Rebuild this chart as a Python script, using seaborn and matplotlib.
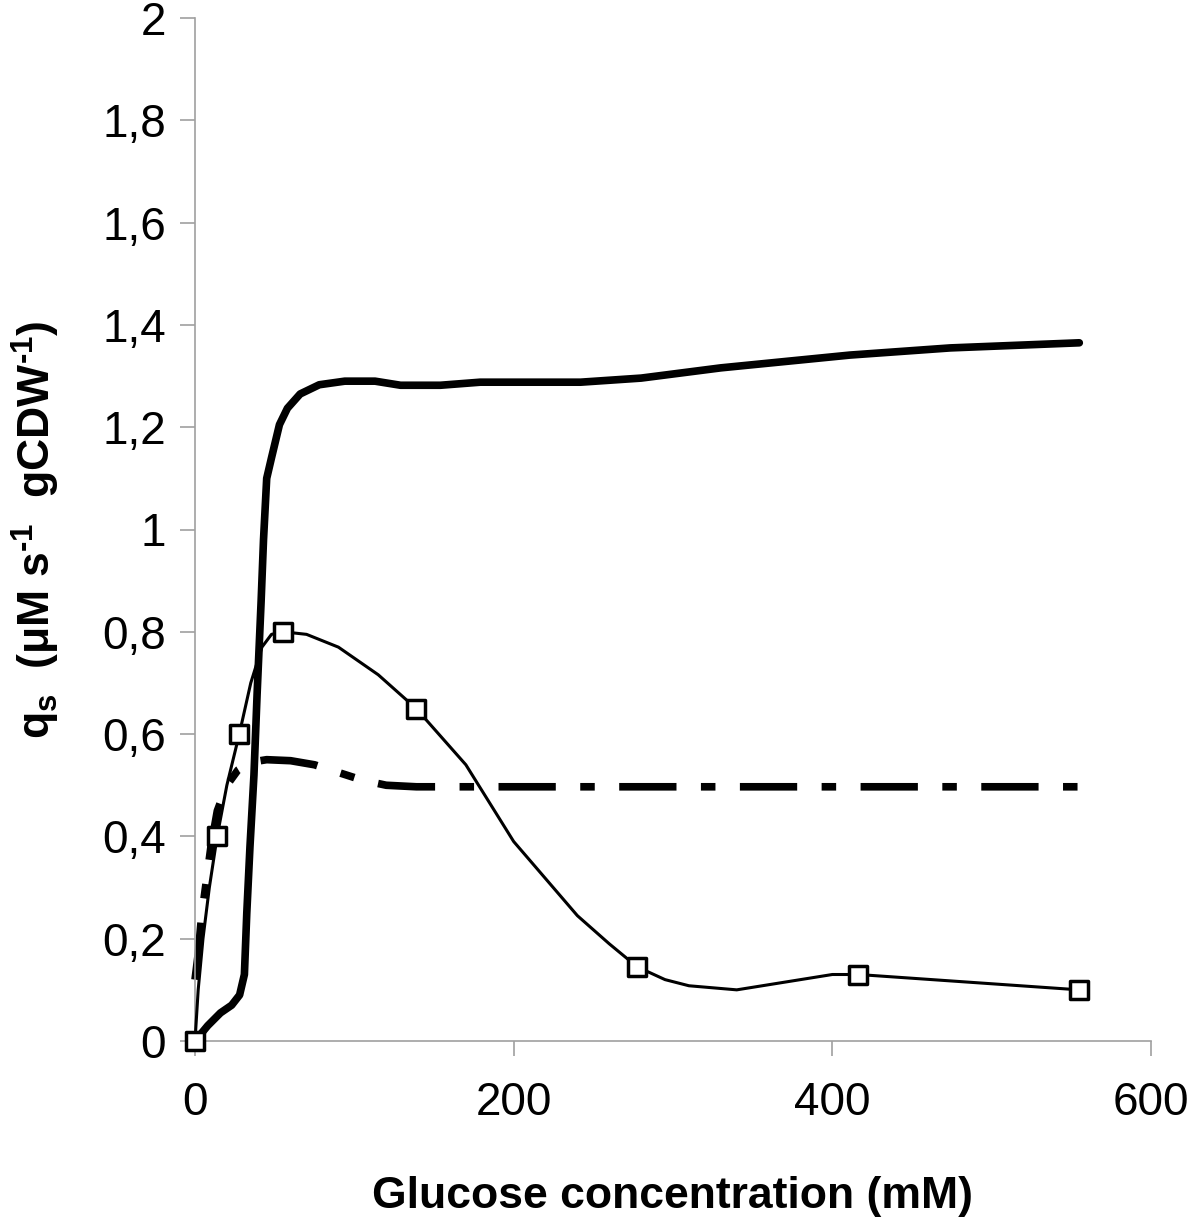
import numpy as np
import pandas as pd
import matplotlib
matplotlib.use("Agg")
import matplotlib.pyplot as plt
import seaborn as sns

# ---- data ----
exp_x = [0, 13.9, 27.8, 55.5, 138.8, 277.5, 416.3, 555]
exp_y = [0, 0.40, 0.60, 0.80, 0.65, 0.145, 0.13, 0.10]

fit_x = [0, 2, 5, 9, 13.9, 20, 27.8, 35, 42, 48, 55.5, 70, 90, 115, 138.8, 170, 200, 240,
         260, 277.5, 295, 310, 340, 380, 400, 416.3, 555]
fit_y = [0, 0.10, 0.20, 0.30, 0.40, 0.50, 0.60, 0.70, 0.77, 0.795, 0.80, 0.795, 0.77, 0.716,
         0.65, 0.54, 0.39, 0.245, 0.19, 0.145, 0.12, 0.108, 0.10, 0.12, 0.13, 0.13, 0.10]

m1_x = [0, 8, 16, 23, 28, 31, 32.5, 34.5, 37, 39, 41.5, 43, 45, 48, 53, 58, 66, 78, 94,
        113, 129, 154, 179, 242, 280, 330, 411, 474, 555]
m1_y = [0, 0.03, 0.055, 0.07, 0.09, 0.13, 0.25, 0.38, 0.52, 0.68, 0.86, 0.98, 1.10, 1.14,
        1.205, 1.237, 1.265, 1.283, 1.29, 1.29, 1.282, 1.282, 1.288, 1.288, 1.296, 1.316,
        1.341, 1.355, 1.365]

m2_x = [0, 2, 4, 7, 10, 14, 20, 27, 35, 45, 60, 75, 90, 105, 120, 139, 555]
m2_y = [0.12, 0.17, 0.24, 0.31, 0.38, 0.45, 0.50, 0.53, 0.545, 0.55, 0.548, 0.54, 0.525,
        0.51, 0.50, 0.497, 0.497]

xticks = [0, 200, 400, 600]
yticks = [0, 0.2, 0.4, 0.6, 0.8, 1.0, 1.2, 1.4, 1.6, 1.8, 2.0]
ytick_labels = ["0", "0,2", "0,4", "0,6", "0,8", "1", "1,2", "1,4", "1,6", "1,8", "2"]

sns.set_theme(style="white")
plt.rcParams['font.family'] = ['Liberation Sans', 'DejaVu Sans']
plt.rcParams['mathtext.fontset'] = 'custom'
plt.rcParams['mathtext.rm'] = 'Liberation Sans:bold'
plt.rcParams['mathtext.it'] = 'Liberation Sans:bold'
plt.rcParams['mathtext.bf'] = 'Liberation Sans:bold'
plt.rcParams['text.color'] = 'black'
plt.rcParams['axes.labelcolor'] = 'black'

fig = plt.figure(figsize=(12, 12.27), dpi=100)
ax = fig.add_axes([195/1200, 1 - 1041/1227, (1151-195)/1200, (1041-18)/1227])

df_m1 = pd.DataFrame({"x": m1_x, "y": m1_y})
df_m2 = pd.DataFrame({"x": m2_x, "y": m2_y})
df_fit = pd.DataFrame({"x": fit_x, "y": fit_y})
df_exp = pd.DataFrame({"x": exp_x, "y": exp_y})

sns.lineplot(data=df_fit, x="x", y="y", ax=ax, color="black", linewidth=2.2,
             sort=False, estimator=None, zorder=3)
sns.lineplot(data=df_m1, x="x", y="y", ax=ax, color="black", linewidth=5.5,
             sort=False, estimator=None, solid_capstyle="round", zorder=2)
sns.lineplot(data=df_m2, x="x", y="y", ax=ax, color="black", linewidth=5.5,
             sort=False, estimator=None, zorder=2)
ax.lines[-1].set_dashes([7.5, 3.2, 1.9, 3.2])
ax.lines[-1].set_dash_capstyle("butt")
sns.scatterplot(data=df_exp, x="x", y="y", ax=ax, marker="s", s=150,
                facecolor="white", edgecolor="black", linewidth=2.5, zorder=4)

ax.set_xlim(0, 600)
ax.set_ylim(0, 2)
ax.set_xticks(xticks)
ax.set_xticklabels([str(t) for t in xticks])
ax.set_yticks(yticks)
ax.set_yticklabels(ytick_labels)
ax.tick_params(axis="both", which="major", direction="out", length=11, width=1.2,
               color="#a0a0a0", labelsize=33, labelcolor="black", bottom=True, left=True)
ax.tick_params(axis="x", pad=18)
ax.tick_params(axis="y", pad=10)

for side in ["top", "right"]:
    ax.spines[side].set_visible(False)
for side in ["left", "bottom"]:
    ax.spines[side].set_color("#a0a0a0")
    ax.spines[side].set_linewidth(1.2)
ax.grid(False)

ax.set_xlabel("Glucose concentration (mM)", fontsize=32, fontweight="bold", color="black")
ax.xaxis.set_label_coords(0.5, -(1176 - 1041) / (1041 - 18))
ax.set_ylabel(r"q$_{\mathregular{s}}$  ($\mu$M s$^{\text{-}1}$  gCDW$^{\text{-}1}$)",
              fontsize=32, fontweight="bold", color="black")
ax.yaxis.set_label_coords((62 - 195) / (1151 - 195), 0.5)
for ln in ax.lines:
    ln.set_clip_on(False)
for c in ax.collections:
    c.set_clip_on(False)

fig.savefig("out.png", dpi=100)
